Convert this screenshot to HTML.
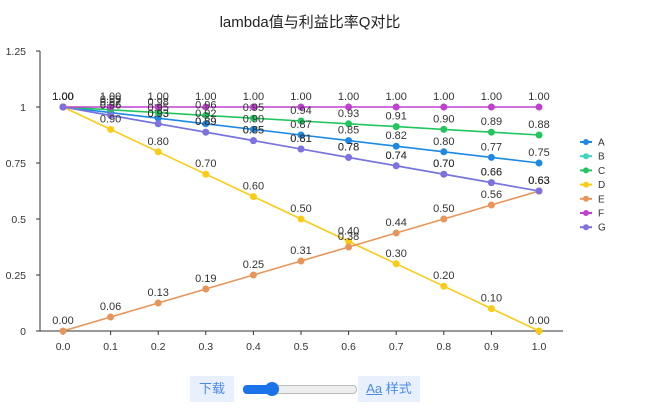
<!DOCTYPE html>
<html><head><meta charset="utf-8"><style>
body{margin:0;background:#fff;width:661px;height:410px;overflow:hidden;font-family:"Liberation Sans","Noto Sans CJK SC",sans-serif}
.btn{position:absolute;top:376px;height:26px;background:#e8f0fe;color:#4a8ae8;font-size:13px;line-height:26px;text-align:center}
</style></head><body>
<svg width="661" height="410" style="position:absolute;left:0;top:0" font-family="Liberation Sans, Noto Sans CJK SC, sans-serif">
<text x="310" y="27" font-size="15" text-anchor="middle" fill="#222">lambda值与利益比率Q对比</text>
<g stroke="#333" stroke-width="1">
<line x1="40" y1="51" x2="40" y2="331"/><line x1="40" y1="331" x2="563" y2="331"/>
</g>
<g font-size="10.5" fill="#333" text-anchor="end" id="yt"></g>
<g font-size="10.5" fill="#333" text-anchor="middle" id="xt"></g>
<g id="series"></g>
<g id="labels" font-size="11" fill="#333" text-anchor="middle"></g>
<g id="legend" font-size="10" fill="#333"></g>
</svg>
<div class="btn" style="left:190px;width:44px">下载</div>
<div style="position:absolute;left:243px;top:385px;width:112px;height:7px;border:1px solid #bbb;border-radius:4px;background:#eee"></div>
<div style="position:absolute;left:243px;top:385px;width:30px;height:9px;border-radius:4px;background:#1a73e8"></div>
<div style="position:absolute;left:265px;top:382px;width:14px;height:14px;border-radius:7px;background:#1a73e8"></div>
<div class="btn" style="left:358px;width:62px"><span style="text-decoration:underline">Aa</span> 样式</div>
<script>
const ns="http://www.w3.org/2000/svg";
function el(p,t,a,txt){const e=document.createElementNS(ns,t);for(const k in a)e.setAttribute(k,a[k]);if(txt!==undefined)e.textContent=txt;document.getElementById(p).appendChild(e);}
const X=x=>63+476*x, Y=y=>331-224*y;
["0","0.25","0.5","0.75","1","1.25"].forEach((t,i)=>{el("yt","text",{x:26,y:331-56*i+4},t);el("yt","line",{x1:36,y1:331-56*i,x2:40,y2:331-56*i,stroke:"#333"});});
for(let i=0;i<=10;i++){el("xt","text",{x:X(i/10),y:350},(i/10).toFixed(1));el("xt","line",{x1:X(i/10),y1:331,x2:X(i/10),y2:335,stroke:"#333"});}
const S=[["A","#1e88e5",x=>1-0.25*x,["1.00","0.97","0.95","0.92","0.90","0.87","0.85","0.82","0.80","0.77","0.75"]],["B","#3dd6c0",x=>1-0.375*x],["C","#22c55e",x=>1-0.125*x],["D","#facc15",x=>1-x],["E","#e8955a",x=>0.625*x],["F","#c040d0",x=>1],["G","#8070e0",x=>1-0.375*x]];
S.forEach(([n,c,f,lab],k)=>{let pts=[];for(let i=0;i<=10;i++){const x=i/10,y=f(x);pts.push(X(x)+","+Y(y));el("series","circle",{cx:X(x),cy:Y(y),r:3.5,fill:c});el("labels","text",{x:X(x),y:Y(y)-7},lab?lab[i]:(Math.round(y*100+1e-9)/100).toFixed(2));}
el("series","polyline",{points:pts.join(" "),fill:"none",stroke:c,"stroke-width":1.6});
const ly=142+14.2*k;el("legend","line",{x1:580,y1:ly,x2:592,y2:ly,stroke:c,"stroke-width":2});el("legend","circle",{cx:586,cy:ly,r:3,fill:c});el("legend","text",{x:598,y:ly+3.5},n);});
</script>
</body></html>
